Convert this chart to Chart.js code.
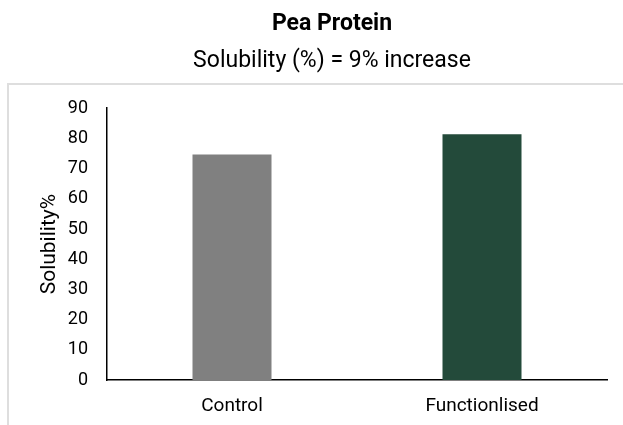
<!DOCTYPE html>
<html>
<head>
<meta charset="utf-8">
<script src="https://cdn.jsdelivr.net/npm/chart.js@4"></script>
<style>
  html, body { margin: 0; padding: 0; background: #fff; }
  #wrap { width: 623px; height: 425px; position: relative; }
</style>
</head>
<body>
<div id="wrap"><canvas id="c" width="623" height="425"></canvas></div>
<script>
const categories = ["Control", "Functionlised"];
const solubility = [74.7, 81.4];
const barColors = ["#808080", "#234a3a"];
const yTicks = [0, 10, 20, 30, 40, 50, 60, 70, 80, 90];
const titleText = "Pea Protein";
const subtitleText = "Solubility (%) = 9% increase";
const yAxisTitle = "Solubility%";

const FONT = "Roboto";

const framePlugin = {
  id: 'frame',
  beforeDraw(chart) {
    const ctx = chart.ctx;
    ctx.save();
    ctx.fillStyle = '#fff';
    ctx.fillRect(0, 0, chart.width, chart.height);
    ctx.strokeStyle = '#dedede';
    ctx.lineWidth = 2;
    ctx.strokeRect(8, 84, 700, 500);
    ctx.restore();
  }
};

new Chart(document.getElementById('c'), {
  type: 'bar',
  data: {
    labels: categories,
    datasets: [{
      data: solubility,
      backgroundColor: barColors,
      borderWidth: 0,
      barPercentage: 0.316,
      categoryPercentage: 1.0
    }]
  },
  options: {
    responsive: false,
    animation: false,
    layout: { padding: { left: 57, right: 16, top: 0, bottom: 0 } },
    plugins: {
      legend: { display: false },
      tooltip: { enabled: false },
      title: {
        display: true,
        text: titleText,
        color: '#000',
        font: { family: FONT, size: 23, weight: 'bold', lineHeight: 1.2 },
        padding: { top: 10, bottom: 0 }
      },
      subtitle: {
        display: true,
        text: subtitleText,
        color: '#000',
        font: { family: FONT, size: 23, weight: 'normal', lineHeight: 1.2 },
        padding: { top: 10, bottom: 33 }
      }
    },
    scales: {
      x: {
        grid: { display: false, drawTicks: false },
        border: { display: true, color: '#000', width: 1.5 },
        ticks: { color: '#000', font: { family: FONT, size: 19 }, padding: 15 },
        afterFit(scale) { scale.height = 45; }
      },
      y: {
        min: 0,
        max: 90,
        afterBuildTicks(scale) { scale.ticks = yTicks.map(v => ({ value: v })); },
        grid: { display: false, drawTicks: false },
        border: { display: true, color: '#000', width: 1.5 },
        ticks: { color: '#000', font: { family: FONT, size: 18 }, padding: 19 },
        title: {
          display: true,
          text: yAxisTitle,
          color: '#000',
          font: { family: FONT, size: 21, lineHeight: 1.2 },
          padding: { top: -20, bottom: 0 }
        },
        afterFit(scale) { scale.width = 50; }
      }
    }
  },
  plugins: [framePlugin]
});
</script>
</body>
</html>
